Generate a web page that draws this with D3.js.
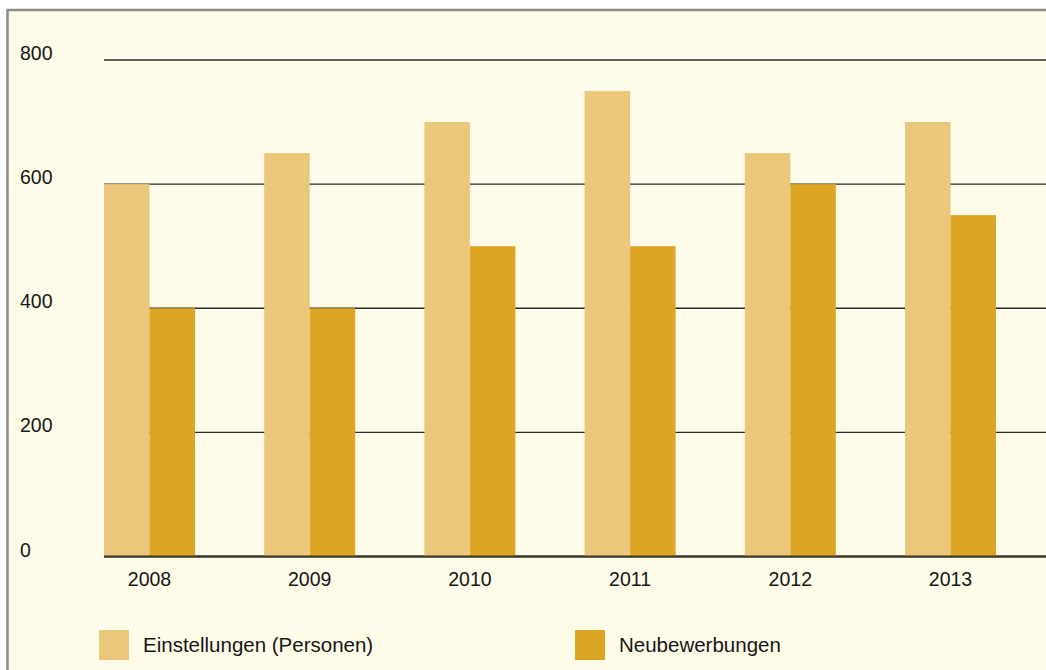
<!DOCTYPE html>
<html>
<head>
<meta charset="utf-8">
<script src="https://cdn.jsdelivr.net/npm/d3@7"></script>
<style>
  body { margin: 0; background: #ffffff; }
  text { font-family: "Liberation Sans", Arial, sans-serif; fill: #161616; }
</style>
</head>
<body>
<div id="chart"></div>
<script>
//Chart data
var years = ["2008", "2009", "2010", "2011", "2012", "2013"];
var einstellungen = [600, 650, 700, 750, 650, 700];
var neubewerbungen = [400, 400, 500, 500, 600, 550];
var yTicks = [0, 200, 400, 600, 800];
var seriesNames = ["Einstellungen (Personen)", "Neubewerbungen"];
var seriesColors = ["#eac77a", "#dca523"];

//Set up chart
var svgWidth = 1046;
var svgHeight = 670;

var svg = d3.select("#chart").append("svg")
    .attr("width", svgWidth)
    .attr("height", svgHeight);

//Panel background with grey frame on top and left
svg.append("rect")
    .attr("x", 7)
    .attr("y", 10)
    .attr("width", svgWidth)
    .attr("height", svgHeight)
    .attr("fill", "#fffbe9");

svg.append("path")
    .attr("d", `M7.5,${svgHeight} V10 H${svgWidth}`)
    .attr("fill", "none")
    .attr("stroke", "#8c8c8c")
    .attr("stroke-width", 2.5);

//Scales
var xScale = d3.scaleBand()
    .domain(years)
    .range([104, 996])
    .paddingInner(0.432)
    .paddingOuter(0);

var xInner = d3.scaleBand()
    .domain([0, 1])
    .range([0, xScale.bandwidth()]);

var yScale = d3.scaleLinear()
    .domain([0, 800])
    .range([556.5, 60]);

//Grid lines
svg.append("g")
    .selectAll("line")
    .data(yTicks)
    .enter()
    .append("line")
    .attr("x1", 104)
    .attr("x2", svgWidth)
    .attr("y1", d => yScale(d))
    .attr("y2", d => yScale(d))
    .attr("stroke", "#2a2a2a")
    .attr("stroke-width", d => d === 0 ? 2 : 1.4);

//Y labels
svg.append("g")
    .selectAll("text")
    .data(yTicks)
    .enter()
    .append("text")
    .attr("x", 20)
    .attr("y", d => yScale(d))
    .attr("font-size", "19.5px")
    .text(d => d);

//Bars
var groups = svg.append("g")
    .selectAll("g")
    .data(years)
    .enter()
    .append("g")
    .attr("transform", d => `translate(${xScale(d)}, 0)`);

groups.append("rect")
    .attr("x", xInner(0))
    .attr("y", (d, i) => yScale(einstellungen[i]))
    .attr("width", xInner.bandwidth())
    .attr("height", (d, i) => yScale(0) - yScale(einstellungen[i]))
    .attr("fill", seriesColors[0]);

groups.append("rect")
    .attr("x", xInner(1))
    .attr("y", (d, i) => yScale(neubewerbungen[i]))
    .attr("width", xInner.bandwidth())
    .attr("height", (d, i) => yScale(0) - yScale(neubewerbungen[i]))
    .attr("fill", seriesColors[1]);

//Baseline drawn over bars
svg.append("line")
    .attr("x1", 104)
    .attr("x2", svgWidth)
    .attr("y1", yScale(0))
    .attr("y2", yScale(0))
    .attr("stroke", "#3a3a2a")
    .attr("stroke-width", 2);

//X labels
groups.append("text")
    .attr("x", xScale.bandwidth() / 2)
    .attr("y", 585.5)
    .attr("text-anchor", "middle")
    .attr("font-size", "19.5px")
    .text(d => d);

//Legend
var legendX = [99, 575];
var legend = svg.append("g")
    .selectAll("g")
    .data(seriesNames)
    .enter()
    .append("g")
    .attr("transform", (d, i) => `translate(${legendX[i]}, 630)`);

legend.append("rect")
    .attr("width", 30)
    .attr("height", 30)
    .attr("fill", (d, i) => seriesColors[i]);

legend.append("text")
    .attr("x", 44)
    .attr("y", 22)
    .attr("font-size", "20.5px")
    .text(d => d);
</script>
</body>
</html>
